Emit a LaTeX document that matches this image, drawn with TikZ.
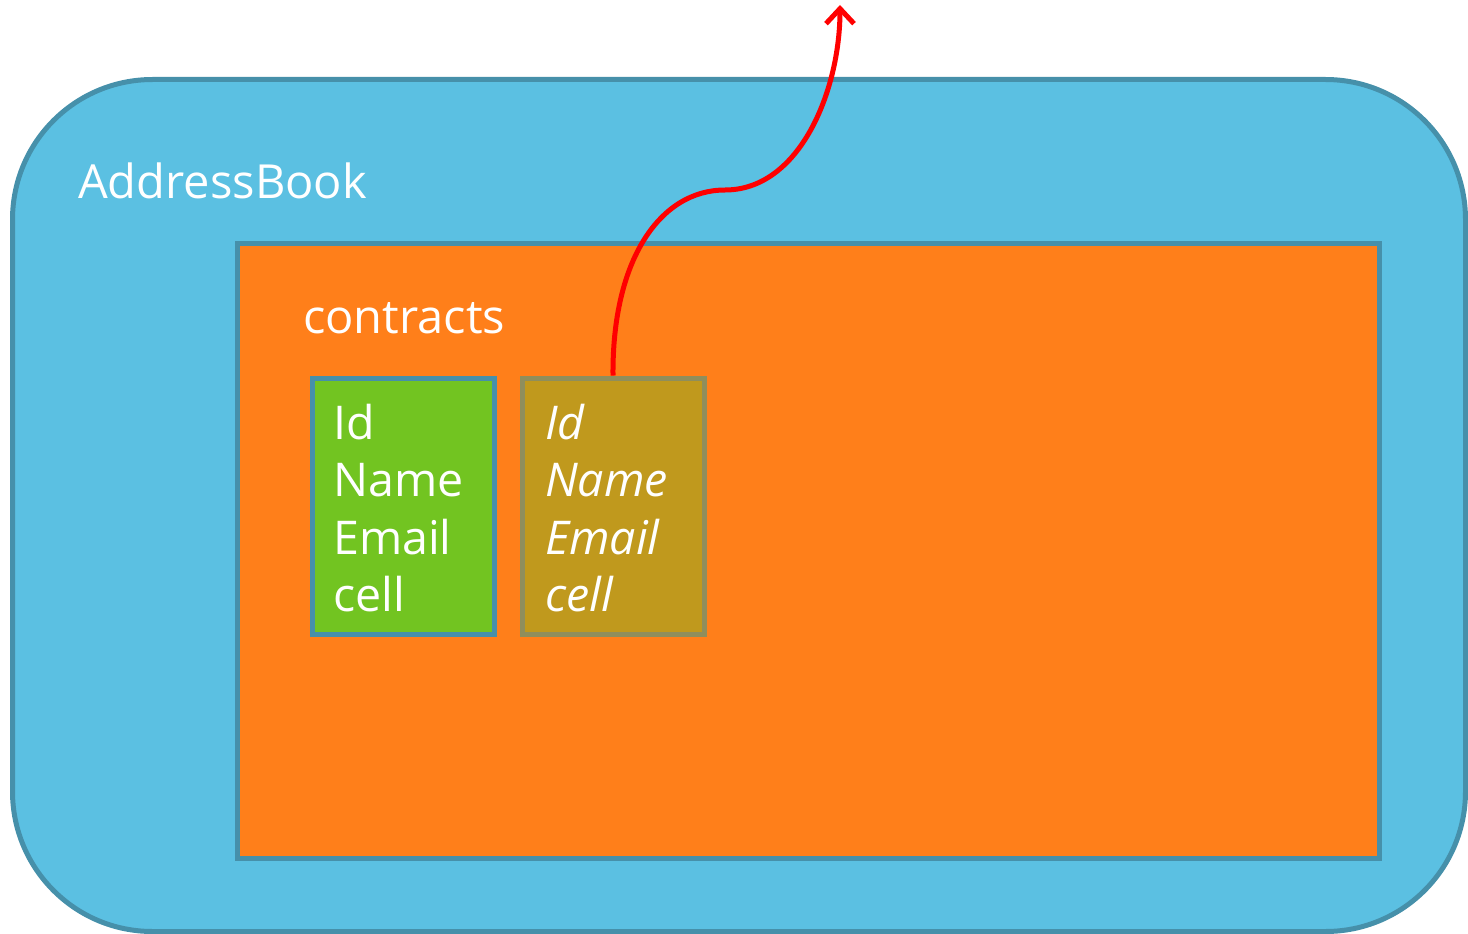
\documentclass[tikz,border=0pt]{standalone}
\usepackage{fontspec}
\setmainfont{Open Sans}
\usetikzlibrary{arrows.meta}
\definecolor{outerfill}{HTML}{5BC0E2}
\definecolor{borderblue}{HTML}{4690AA}
\definecolor{orangefill}{HTML}{FF7F1A}
\definecolor{greenfill}{HTML}{72C421}
\definecolor{goldfill}{HTML}{C0991D}
\definecolor{goldborder}{HTML}{8F8E5C}
\definecolor{arrowred}{HTML}{FF0000}
\tikzset{
  container/.style={draw=borderblue, line width=5pt, inner sep=0pt},
  fieldbox/.style={line width=5pt, inner sep=0pt, minimum width=182pt, minimum height=256pt},
  label/.style={text=white, inner sep=0pt, font=\fontsize{47}{54}\selectfont},
  fields/.style={text=white, inner sep=0pt, align=left, anchor=north west, font=\fontsize{46.5}{57.3}\selectfont},
  link/.style={draw=arrowred, line width=5pt, -{Straight Barb[length=15pt,width=28pt,line width=5pt]}}
}
\begin{document}
\begin{tikzpicture}[x=1pt,y=-1pt]
\useasboundingbox (0,0) rectangle (1468,934);
\node[container, fill=outerfill, rounded corners=140pt, minimum width=1453pt, minimum height=852pt] (book) at (739,505.5) {};
\node[container, fill=orangefill, minimum width=1142pt, minimum height=615pt] (contracts) at (808,550.5) {};
\node[label, anchor=base west] (booklabel) at (78,198) {AddressBook};
\node[label, anchor=base west] (contractslabel) at (303,333) {contracts};
\node[fieldbox, draw=borderblue, fill=greenfill] (plain) at (403,506) {};
\node[fieldbox, draw=goldborder, fill=goldfill] (ghost) at (613,506) {};
\node[fields] (plaintext) at (333,404) {Id\\Name\\Email\\cell};
\node[fields, font=\fontsize{46.5}{57.3}\selectfont\itshape] (ghosttext) at (545,404) {Id\\Name\\Email\\cell};
\coordinate (bend) at (725,190);
\coordinate (target) at (840,5);
\draw[link] (ghost.north) .. controls (612,260) and (660,190) .. (bend) .. controls (800,190) and (840,90) .. (target);
\end{tikzpicture}
\end{document}
